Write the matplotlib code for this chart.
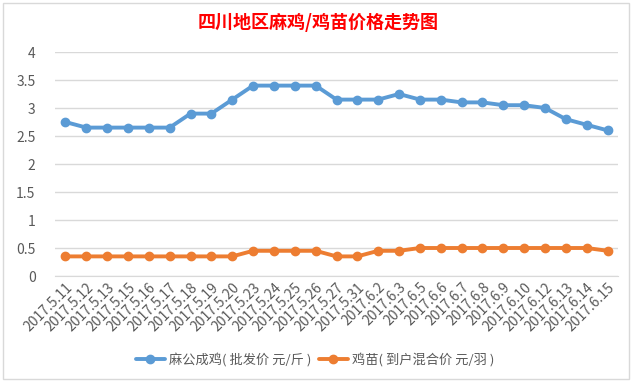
import matplotlib
matplotlib.use("Agg")
import matplotlib.pyplot as plt
from matplotlib.patches import Rectangle

plt.rcParams['font.family'] = ['Noto Sans CJK SC', 'DejaVu Sans']

dates = ["2017.5.11", "2017.5.12", "2017.5.13", "2017.5.15", "2017.5.16", "2017.5.17",
         "2017.5.18", "2017.5.19", "2017.5.20", "2017.5.23", "2017.5.24", "2017.5.25",
         "2017.5.26", "2017.5.27", "2017.5.31", "2017.6.2", "2017.6.3", "2017.6.5",
         "2017.6.6", "2017.6.7", "2017.6.8", "2017.6.9", "2017.6.10", "2017.6.12",
         "2017.6.13", "2017.6.14", "2017.6.15"]
chicken = [2.75, 2.65, 2.65, 2.65, 2.65, 2.65, 2.9, 2.9, 3.15, 3.4, 3.4, 3.4, 3.4,
           3.15, 3.15, 3.15, 3.25, 3.15, 3.15, 3.1, 3.1, 3.05, 3.05, 3.0, 2.8, 2.7, 2.6]
chick = [0.35, 0.35, 0.35, 0.35, 0.35, 0.35, 0.35, 0.35, 0.35, 0.45, 0.45, 0.45, 0.45,
         0.35, 0.35, 0.45, 0.45, 0.5, 0.5, 0.5, 0.5, 0.5, 0.5, 0.5, 0.5, 0.5, 0.45]
series_names = ["麻公成鸡( 批发价 元/斤 )", "鸡苗( 到户混合价 元/羽 )"]
yticks = [0, 0.5, 1, 1.5, 2, 2.5, 3, 3.5, 4]
yticklabels = ["0", "0.5", "1", "1.5", "2", "2.5", "3", "3.5", "4"]
title = "四川地区麻鸡/鸡苗价格走势图"

W, H = 636, 383
fig = plt.figure(figsize=(W / 100, H / 100), dpi=100)
fig.patch.set_facecolor("white")
fig.patches.append(Rectangle((3 / W, 4 / H), 626 / W, 376 / H, transform=fig.transFigure,
                             fill=False, edgecolor="#D9D9D9", linewidth=1))

ax = fig.add_axes([55 / W, 1 - 276 / H, 563 / W, 224 / H])
x = list(range(len(dates)))
ax.plot(x, chicken, color="#5B9BD5", linewidth=2.8, marker="o", markersize=6,
        label=series_names[0], solid_capstyle="round")
ax.plot(x, chick, color="#ED7D31", linewidth=2.8, marker="o", markersize=6,
        label=series_names[1], solid_capstyle="round")

ax.set_xlim(-0.5, len(dates) - 0.5)
ax.set_ylim(0, 4)
ax.set_yticks(yticks)
ax.set_yticklabels(yticklabels)
ax.set_xticks(x)
ax.set_xticklabels(dates, rotation=45, ha="right", va="top", rotation_mode="anchor",
                   fontsize=10.5)
ax.tick_params(axis="both", length=0, colors="#595959", labelsize=10)
ax.tick_params(axis="y", pad=14)
ax.tick_params(axis="x", pad=3)
ax.grid(axis="y", color="#D9D9D9", linewidth=1)
ax.set_axisbelow(True)
for s in ["top", "right", "left"]:
    ax.spines[s].set_visible(False)
ax.spines["bottom"].set_color("#D9D9D9")

fig.text(0.5, 1 - 22 / H, title, color="#FF0000", fontsize=13, ha="center", va="center",
         fontweight="bold")

leg = fig.legend(loc="center", bbox_to_anchor=(315 / W, 1 - 360 / H), ncol=2, frameon=False,
                 fontsize=9.5, handlelength=2.2, columnspacing=0.6, handletextpad=0.3)
for t in leg.get_texts():
    t.set_color("#595959")

fig.savefig("out.png", dpi=100)
